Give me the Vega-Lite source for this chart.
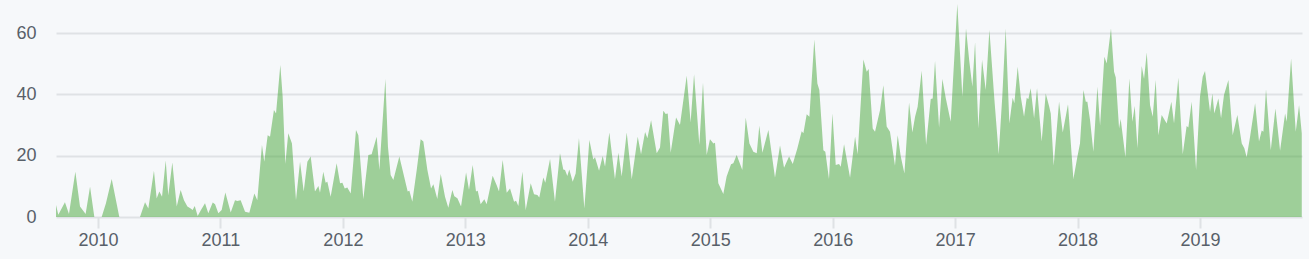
{
  "$schema": "https://vega.github.io/schema/vega-lite/v6.json",
  "width": 1246,
  "height": 213,
  "autosize": {"type": "none"},
  "padding": {"left": 56, "top": 4, "right": 7, "bottom": 42},
  "background": "#f6f8fa",
  "config": {"view": {"stroke": null}, "font": "Liberation Sans"},
  "data": {"values": [
    {"year": 2009.657, "commits": 3.9}, {"year": 2009.676, "commits": 0.7}, {"year": 2009.730, "commits": 4.8}, {"year": 2009.763, "commits": 1},
    {"year": 2009.815, "commits": 14.8}, {"year": 2009.853, "commits": 3.4}, {"year": 2009.899, "commits": 1}, {"year": 2009.935, "commits": 9.9},
    {"year": 2009.970, "commits": 0}, {"year": 2010.030, "commits": 0}, {"year": 2010.065, "commits": 4.5}, {"year": 2010.112, "commits": 12.4},
    {"year": 2010.174, "commits": 0}, {"year": 2010.343, "commits": 0}, {"year": 2010.384, "commits": 4.8}, {"year": 2010.411, "commits": 2.8},
    {"year": 2010.457, "commits": 15.1}, {"year": 2010.479, "commits": 6}, {"year": 2010.501, "commits": 8.3}, {"year": 2010.523, "commits": 6.6},
    {"year": 2010.553, "commits": 18.4}, {"year": 2010.574, "commits": 7}, {"year": 2010.607, "commits": 17.8}, {"year": 2010.643, "commits": 3.4},
    {"year": 2010.675, "commits": 8.8}, {"year": 2010.702, "commits": 5.5}, {"year": 2010.730, "commits": 3.4}, {"year": 2010.757, "commits": 2.8},
    {"year": 2010.773, "commits": 2.3}, {"year": 2010.790, "commits": 3.6}, {"year": 2010.814, "commits": 0.3}, {"year": 2010.841, "commits": 2.3},
    {"year": 2010.874, "commits": 4.5}, {"year": 2010.901, "commits": 1.2}, {"year": 2010.937, "commits": 4.7}, {"year": 2010.956, "commits": 4.2},
    {"year": 2010.983, "commits": 1.2}, {"year": 2011.010, "commits": 2.3}, {"year": 2011.040, "commits": 8}, {"year": 2011.084, "commits": 1.5},
    {"year": 2011.119, "commits": 5.5}, {"year": 2011.138, "commits": 5.2}, {"year": 2011.165, "commits": 5.5}, {"year": 2011.201, "commits": 1.7},
    {"year": 2011.236, "commits": 1.4}, {"year": 2011.277, "commits": 7.7}, {"year": 2011.301, "commits": 5.5}, {"year": 2011.339, "commits": 23.5},
    {"year": 2011.358, "commits": 18}, {"year": 2011.386, "commits": 26.7}, {"year": 2011.405, "commits": 26.2}, {"year": 2011.437, "commits": 34.9},
    {"year": 2011.454, "commits": 33.8}, {"year": 2011.489, "commits": 49.6}, {"year": 2011.508, "commits": 39.2}, {"year": 2011.530, "commits": 17.3},
    {"year": 2011.554, "commits": 27.3}, {"year": 2011.584, "commits": 24}, {"year": 2011.617, "commits": 5.5}, {"year": 2011.650, "commits": 18},
    {"year": 2011.680, "commits": 8.3}, {"year": 2011.710, "commits": 18}, {"year": 2011.737, "commits": 19.7}, {"year": 2011.772, "commits": 8.3},
    {"year": 2011.800, "commits": 10.1}, {"year": 2011.813, "commits": 7.9}, {"year": 2011.840, "commits": 14.8}, {"year": 2011.859, "commits": 11.2},
    {"year": 2011.873, "commits": 11.5}, {"year": 2011.900, "commits": 6.6}, {"year": 2011.949, "commits": 17.5}, {"year": 2011.977, "commits": 11},
    {"year": 2011.996, "commits": 11.2}, {"year": 2012.015, "commits": 9.3}, {"year": 2012.036, "commits": 9.6}, {"year": 2012.064, "commits": 7.7},
    {"year": 2012.107, "commits": 28.4}, {"year": 2012.126, "commits": 26.7}, {"year": 2012.167, "commits": 5.8}, {"year": 2012.208, "commits": 20.2},
    {"year": 2012.235, "commits": 20.5}, {"year": 2012.276, "commits": 26.2}, {"year": 2012.298, "commits": 15.3}, {"year": 2012.347, "commits": 45},
    {"year": 2012.368, "commits": 22.9}, {"year": 2012.390, "commits": 13.7}, {"year": 2012.412, "commits": 12.1}, {"year": 2012.461, "commits": 19.7},
    {"year": 2012.494, "commits": 14.2}, {"year": 2012.529, "commits": 8.3}, {"year": 2012.543, "commits": 8.6}, {"year": 2012.567, "commits": 5},
    {"year": 2012.603, "commits": 15.3}, {"year": 2012.635, "commits": 25.4}, {"year": 2012.657, "commits": 24.6}, {"year": 2012.690, "commits": 15.3},
    {"year": 2012.720, "commits": 9.3}, {"year": 2012.739, "commits": 10.7}, {"year": 2012.771, "commits": 5.9}, {"year": 2012.799, "commits": 14},
    {"year": 2012.834, "commits": 6.6}, {"year": 2012.861, "commits": 3}, {"year": 2012.894, "commits": 8.8}, {"year": 2012.910, "commits": 6.8},
    {"year": 2012.935, "commits": 6.1}, {"year": 2012.965, "commits": 3.4}, {"year": 2013.006, "commits": 14.5}, {"year": 2013.030, "commits": 8.8},
    {"year": 2013.060, "commits": 17}, {"year": 2013.087, "commits": 8.3}, {"year": 2013.101, "commits": 8.6}, {"year": 2013.125, "commits": 4.2},
    {"year": 2013.155, "commits": 5.8}, {"year": 2013.174, "commits": 4.2}, {"year": 2013.223, "commits": 13.5}, {"year": 2013.256, "commits": 10.4},
    {"year": 2013.275, "commits": 8.3}, {"year": 2013.305, "commits": 18.6}, {"year": 2013.338, "commits": 7.9}, {"year": 2013.365, "commits": 9.3},
    {"year": 2013.398, "commits": 5}, {"year": 2013.414, "commits": 5.3}, {"year": 2013.433, "commits": 3.6}, {"year": 2013.466, "commits": 14.8},
    {"year": 2013.493, "commits": 2.3}, {"year": 2013.534, "commits": 11}, {"year": 2013.561, "commits": 7.4}, {"year": 2013.588, "commits": 7.2},
    {"year": 2013.604, "commits": 6.4}, {"year": 2013.637, "commits": 12.9}, {"year": 2013.653, "commits": 11.2}, {"year": 2013.692, "commits": 18.9},
    {"year": 2013.732, "commits": 5}, {"year": 2013.773, "commits": 20.8}, {"year": 2013.800, "commits": 15.5}, {"year": 2013.814, "commits": 15.3},
    {"year": 2013.833, "commits": 13.4}, {"year": 2013.849, "commits": 15.5}, {"year": 2013.877, "commits": 11.5}, {"year": 2013.901, "commits": 14.2},
    {"year": 2013.928, "commits": 25.7}, {"year": 2013.972, "commits": 2.8}, {"year": 2014.013, "commits": 25.1}, {"year": 2014.045, "commits": 18.8},
    {"year": 2014.059, "commits": 19.5}, {"year": 2014.092, "commits": 15.1}, {"year": 2014.122, "commits": 19.9}, {"year": 2014.141, "commits": 16.4},
    {"year": 2014.176, "commits": 27.6}, {"year": 2014.222, "commits": 12.3}, {"year": 2014.250, "commits": 21}, {"year": 2014.277, "commits": 13.2},
    {"year": 2014.318, "commits": 27.6}, {"year": 2014.359, "commits": 12.3}, {"year": 2014.408, "commits": 26.2}, {"year": 2014.435, "commits": 20.5},
    {"year": 2014.468, "commits": 27.7}, {"year": 2014.487, "commits": 25.7}, {"year": 2014.517, "commits": 31.6}, {"year": 2014.563, "commits": 20.8},
    {"year": 2014.590, "commits": 22.7}, {"year": 2014.617, "commits": 34.7}, {"year": 2014.636, "commits": 33.6}, {"year": 2014.653, "commits": 33.8},
    {"year": 2014.677, "commits": 21}, {"year": 2014.721, "commits": 32.5}, {"year": 2014.753, "commits": 30}, {"year": 2014.808, "commits": 46.1},
    {"year": 2014.840, "commits": 30.8}, {"year": 2014.868, "commits": 46.6}, {"year": 2014.911, "commits": 23.5}, {"year": 2014.941, "commits": 43.8},
    {"year": 2014.971, "commits": 20.2}, {"year": 2014.998, "commits": 25.4}, {"year": 2015.026, "commits": 24}, {"year": 2015.039, "commits": 24.2},
    {"year": 2015.066, "commits": 11}, {"year": 2015.107, "commits": 7.5}, {"year": 2015.134, "commits": 13.2}, {"year": 2015.170, "commits": 17.2},
    {"year": 2015.189, "commits": 17.5}, {"year": 2015.216, "commits": 20.2}, {"year": 2015.262, "commits": 15.3}, {"year": 2015.290, "commits": 32.5},
    {"year": 2015.320, "commits": 24}, {"year": 2015.352, "commits": 21.3}, {"year": 2015.380, "commits": 20.8}, {"year": 2015.401, "commits": 29.8},
    {"year": 2015.426, "commits": 21}, {"year": 2015.475, "commits": 28.4}, {"year": 2015.529, "commits": 12.8}, {"year": 2015.570, "commits": 23.3},
    {"year": 2015.603, "commits": 16.1}, {"year": 2015.644, "commits": 19.7}, {"year": 2015.674, "commits": 17.3}, {"year": 2015.712, "commits": 22.4},
    {"year": 2015.747, "commits": 28}, {"year": 2015.761, "commits": 27.3}, {"year": 2015.788, "commits": 33.5}, {"year": 2015.810, "commits": 32.7},
    {"year": 2015.850, "commits": 57.9}, {"year": 2015.875, "commits": 43.6}, {"year": 2015.891, "commits": 41.4}, {"year": 2015.924, "commits": 21.8},
    {"year": 2015.940, "commits": 21.3}, {"year": 2015.970, "commits": 12.3}, {"year": 2015.998, "commits": 33.8}, {"year": 2016.025, "commits": 17},
    {"year": 2016.052, "commits": 17.3}, {"year": 2016.066, "commits": 16.4}, {"year": 2016.093, "commits": 23.7}, {"year": 2016.142, "commits": 12.8},
    {"year": 2016.183, "commits": 26.2}, {"year": 2016.204, "commits": 20.5}, {"year": 2016.251, "commits": 51.4}, {"year": 2016.278, "commits": 47.4},
    {"year": 2016.294, "commits": 48.3}, {"year": 2016.327, "commits": 28.9}, {"year": 2016.346, "commits": 27.8}, {"year": 2016.387, "commits": 34.9},
    {"year": 2016.414, "commits": 43}, {"year": 2016.441, "commits": 29.5}, {"year": 2016.468, "commits": 27.8}, {"year": 2016.509, "commits": 16.7},
    {"year": 2016.531, "commits": 26.7}, {"year": 2016.556, "commits": 19.7}, {"year": 2016.586, "commits": 14.2}, {"year": 2016.624, "commits": 37.3},
    {"year": 2016.651, "commits": 27.6}, {"year": 2016.673, "commits": 32.7}, {"year": 2016.694, "commits": 36}, {"year": 2016.727, "commits": 47.7},
    {"year": 2016.763, "commits": 23.5}, {"year": 2016.801, "commits": 38.5}, {"year": 2016.817, "commits": 38.7}, {"year": 2016.836, "commits": 50.9},
    {"year": 2016.869, "commits": 29.1}, {"year": 2016.896, "commits": 45}, {"year": 2016.923, "commits": 38.9}, {"year": 2016.964, "commits": 31.1},
    {"year": 2017.018, "commits": 69.5}, {"year": 2017.059, "commits": 39.2}, {"year": 2017.089, "commits": 61.5}, {"year": 2017.116, "commits": 50.7},
    {"year": 2017.141, "commits": 42.5}, {"year": 2017.163, "commits": 57}, {"year": 2017.190, "commits": 28.9}, {"year": 2017.220, "commits": 51.2},
    {"year": 2017.250, "commits": 41.4}, {"year": 2017.280, "commits": 61}, {"year": 2017.321, "commits": 38.2}, {"year": 2017.356, "commits": 20.5},
    {"year": 2017.386, "commits": 39.8}, {"year": 2017.413, "commits": 61.5}, {"year": 2017.443, "commits": 30.5}, {"year": 2017.470, "commits": 38.9},
    {"year": 2017.484, "commits": 37.1}, {"year": 2017.511, "commits": 49}, {"year": 2017.536, "commits": 39.2}, {"year": 2017.563, "commits": 32.7},
    {"year": 2017.585, "commits": 38.9}, {"year": 2017.598, "commits": 38.4}, {"year": 2017.617, "commits": 42}, {"year": 2017.645, "commits": 32.2},
    {"year": 2017.669, "commits": 42}, {"year": 2017.707, "commits": 24.6}, {"year": 2017.740, "commits": 40.3}, {"year": 2017.767, "commits": 36.2},
    {"year": 2017.781, "commits": 33.8}, {"year": 2017.805, "commits": 16.7}, {"year": 2017.849, "commits": 37.6}, {"year": 2017.879, "commits": 27.6},
    {"year": 2017.922, "commits": 36.8}, {"year": 2017.966, "commits": 12.4}, {"year": 2017.999, "commits": 19.7}, {"year": 2018.020, "commits": 24},
    {"year": 2018.048, "commits": 41.4}, {"year": 2018.067, "commits": 37.6}, {"year": 2018.080, "commits": 37.6}, {"year": 2018.102, "commits": 31.6},
    {"year": 2018.129, "commits": 21.3}, {"year": 2018.162, "commits": 42.5}, {"year": 2018.184, "commits": 29.8}, {"year": 2018.219, "commits": 52.3},
    {"year": 2018.238, "commits": 50.1}, {"year": 2018.273, "commits": 61.5}, {"year": 2018.298, "commits": 47.4}, {"year": 2018.312, "commits": 45.5},
    {"year": 2018.339, "commits": 28.9}, {"year": 2018.352, "commits": 32}, {"year": 2018.391, "commits": 19.5}, {"year": 2018.423, "commits": 45.2},
    {"year": 2018.448, "commits": 31.1}, {"year": 2018.467, "commits": 36.2}, {"year": 2018.489, "commits": 22.4}, {"year": 2018.524, "commits": 49.3},
    {"year": 2018.543, "commits": 45}, {"year": 2018.565, "commits": 53.7}, {"year": 2018.592, "commits": 36.5}, {"year": 2018.614, "commits": 32.7},
    {"year": 2018.638, "commits": 44.7}, {"year": 2018.660, "commits": 26.7}, {"year": 2018.687, "commits": 33.3}, {"year": 2018.728, "commits": 30.5},
    {"year": 2018.766, "commits": 37.6}, {"year": 2018.788, "commits": 30.5}, {"year": 2018.823, "commits": 45.4}, {"year": 2018.859, "commits": 20.5},
    {"year": 2018.891, "commits": 29.7}, {"year": 2018.905, "commits": 29.2}, {"year": 2018.932, "commits": 37.6}, {"year": 2018.968, "commits": 15.3},
    {"year": 2019.000, "commits": 39.2}, {"year": 2019.022, "commits": 45.8}, {"year": 2019.041, "commits": 47.6}, {"year": 2019.082, "commits": 34.3},
    {"year": 2019.101, "commits": 40.3}, {"year": 2019.117, "commits": 33.8}, {"year": 2019.150, "commits": 38.7}, {"year": 2019.172, "commits": 32.2},
    {"year": 2019.196, "commits": 39.8}, {"year": 2019.232, "commits": 44.7}, {"year": 2019.267, "commits": 26.7}, {"year": 2019.305, "commits": 33.3},
    {"year": 2019.341, "commits": 24}, {"year": 2019.362, "commits": 22.4}, {"year": 2019.381, "commits": 19.5}, {"year": 2019.409, "commits": 26.2},
    {"year": 2019.450, "commits": 37.1}, {"year": 2019.482, "commits": 24.6}, {"year": 2019.504, "commits": 28.2}, {"year": 2019.518, "commits": 27.8},
    {"year": 2019.539, "commits": 41.7}, {"year": 2019.578, "commits": 21.8}, {"year": 2019.616, "commits": 35.4}, {"year": 2019.654, "commits": 21.6},
    {"year": 2019.695, "commits": 33.8}, {"year": 2019.708, "commits": 31.1}, {"year": 2019.744, "commits": 51.7}, {"year": 2019.782, "commits": 27.8},
    {"year": 2019.809, "commits": 36.5}, {"year": 2019.831, "commits": 27.3}
  ]},
  "mark": {"type": "area", "color": "#46a638", "opacity": 0.5, "interpolate": "linear"},
  "encoding": {
    "x": {
      "field": "year", "type": "quantitative",
      "scale": {"domain": [2009.657, 2019.833], "nice": false, "zero": false},
      "axis": {
        "title": null, "values": [2010, 2011, 2012, 2013, 2014, 2015, 2016, 2017, 2018, 2019],
        "format": "d", "grid": false, "domain": false,
        "ticks": true, "tickSize": 11, "tickColor": "#dfe2e5", "tickWidth": 2,
        "labelFontSize": 18, "labelColor": "#586069", "labelPadding": 3, "labelFont": "Liberation Sans"
      }
    },
    "y": {
      "field": "commits", "type": "quantitative",
      "scale": {"domain": [0, 69.5], "nice": false},
      "axis": {
        "title": null, "values": [0, 20, 40, 60], "grid": true, "gridColor": "#dfe2e5", "gridWidth": 2,
        "domain": false, "ticks": false, "tickSize": 0, "labelPadding": 20,
        "labelFontSize": 18, "labelColor": "#586069", "labelFont": "Liberation Sans"
      }
    }
  }
}
